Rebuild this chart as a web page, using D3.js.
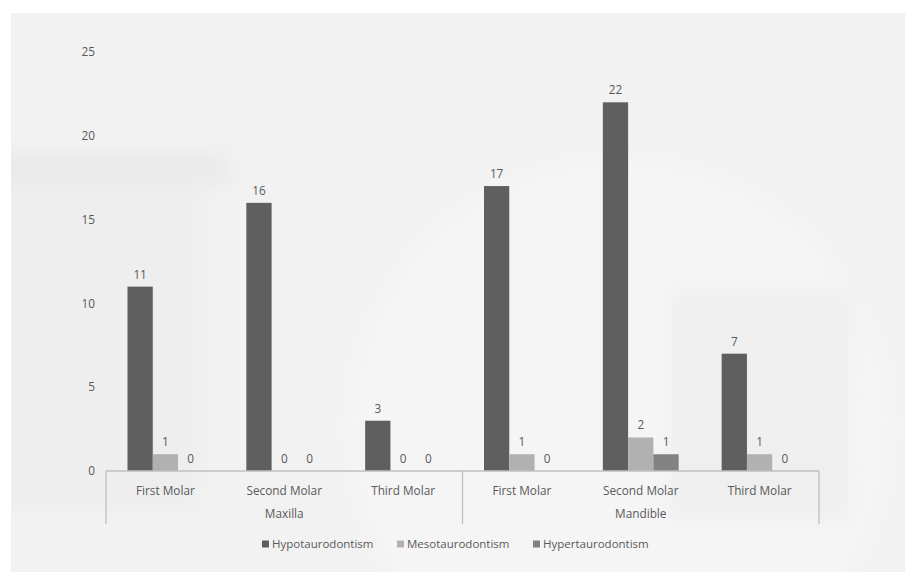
<!DOCTYPE html>
<html>
<head>
<meta charset="utf-8">
<script src="https://cdn.jsdelivr.net/npm/d3@7"></script>
<style>
  body { margin: 0; background: #fff; }
  text { font-family: "Open Sans", sans-serif; fill: #595959; }
</style>
</head>
<body>
<script>
// data
var groups = ["Maxilla", "Mandible"];
var molars = ["First Molar", "Second Molar", "Third Molar"];
var seriesNames = ["Hypotaurodontism", "Mesotaurodontism", "Hypertaurodontism"];
var hypo  = [11, 16, 3, 17, 22, 7];
var meso  = [1, 0, 0, 1, 2, 1];
var hyper = [0, 0, 0, 0, 1, 0];
var yTicks = [0, 5, 10, 15, 20, 25];
var colors = ["#5f5f5f", "#b1b1b1", "#828282"];

var W = 917, H = 581;
var svg = d3.select("body").append("svg").attr("width", W).attr("height", H);

// faded photo-ish background
var defs = svg.append("defs");
defs.append("filter").attr("id", "blur").attr("x", "-20%").attr("y", "-20%").attr("width", "140%").attr("height", "140%")
  .append("feGaussianBlur").attr("stdDeviation", 10);
defs.append("clipPath").attr("id", "frame").append("rect")
  .attr("x", 11).attr("y", 13).attr("width", 894).attr("height", 559);
var bg = svg.append("g").attr("clip-path", "url(#frame)");
bg.append("rect").attr("x", 11).attr("y", 13).attr("width", 894).attr("height", 559).attr("fill", "#f2f2f2");
var soft = bg.append("g").attr("filter", "url(#blur)");
soft.append("rect").attr("x", -20).attr("y", 155).attr("width", 250).attr("height", 30).attr("fill", "#e9e9e9");
soft.append("rect").attr("x", -20).attr("y", 190).attr("width", 220).attr("height", 320).attr("fill", "#eeeeee");
soft.append("circle").attr("cx", 620).attr("cy", 430).attr("r", 270).attr("fill", "#f5f5f5");
soft.append("rect").attr("x", 670).attr("y", 290).attr("width", 180).attr("height", 230).attr("fill", "#efefef");

var x0 = 106, x1 = 819, yBase = 471, yTop = 52;

var cats = [];
groups.forEach(function(g) { molars.forEach(function(m) { cats.push(g + "|" + m); }); });

var x = d3.scaleBand().domain(cats).range([x0, x1]).paddingInner(0).paddingOuter(0);
var xs = d3.scaleBand().domain(seriesNames).range([0, x.bandwidth()]).paddingInner(0).paddingOuter(0.85);
var y = d3.scaleLinear().domain([0, 25]).range([yBase, yTop]);

// y labels (no axis line)
svg.append("g").selectAll("text").data(yTicks).join("text")
  .attr("x", 95).attr("y", function(d) { return y(d); })
  .attr("dy", "0.35em").attr("text-anchor", "end")
  .style("font-size", "11.8px")
  .text(function(d) { return d; });

var values = [hypo, meso, hyper];
var g = svg.append("g");
seriesNames.forEach(function(s, si) {
  var rows = cats.map(function(c, i) { return { c: c, v: values[si][i] }; });
  g.selectAll(".bar" + si).data(rows).join("rect")
    .attr("x", function(d) { return x(d.c) + xs(s); })
    .attr("y", function(d) { return y(d.v); })
    .attr("width", xs.bandwidth())
    .attr("height", function(d) { return yBase - y(d.v); })
    .attr("fill", colors[si]);
  g.selectAll(".lab" + si).data(rows).join("text")
    .attr("x", function(d) { return x(d.c) + xs(s) + xs.bandwidth() / 2; })
    .attr("y", function(d) { return y(d.v) - 8; })
    .attr("text-anchor", "middle")
    .style("font-size", "11.8px")
    .text(function(d) { return d.v; });
});

// x axis line + group separators
var ax = svg.append("g").attr("stroke", "#bfbfbf").attr("stroke-width", 1.3);
ax.append("line").attr("x1", x0).attr("x2", x1).attr("y1", yBase).attr("y2", yBase);
[x0, x(cats[3]), x1].forEach(function(px) {
  ax.append("line").attr("x1", px).attr("x2", px).attr("y1", yBase).attr("y2", 524);
});

svg.append("g").selectAll("text").data(cats).join("text")
  .attr("x", function(d) { return x(d) + x.bandwidth() / 2; })
  .attr("y", 491).attr("dy", "0.35em").attr("text-anchor", "middle")
  .style("font-size", "11.8px")
  .text(function(d) { return d.split("|")[1]; });

svg.append("g").selectAll("text").data(groups).join("text")
  .attr("x", function(d, i) { return x(cats[i * 3]) + x.bandwidth() * 1.5; })
  .attr("y", 514).attr("dy", "0.35em").attr("text-anchor", "middle")
  .style("font-size", "11.8px")
  .text(function(d) { return d; });

// legend
var legX = [262, 397, 533];
var leg = svg.append("g").selectAll("g").data(seriesNames).join("g")
  .attr("transform", function(d, i) { return "translate(" + legX[i] + ",544)"; });
leg.append("rect").attr("x", 0).attr("y", -3.5).attr("width", 7).attr("height", 7)
  .attr("fill", function(d, i) { return colors[i]; });
leg.append("text").attr("x", 10).attr("dy", "0.35em").style("font-size", "11.5px")
  .text(function(d) { return d; });
</script>
</body>
</html>
